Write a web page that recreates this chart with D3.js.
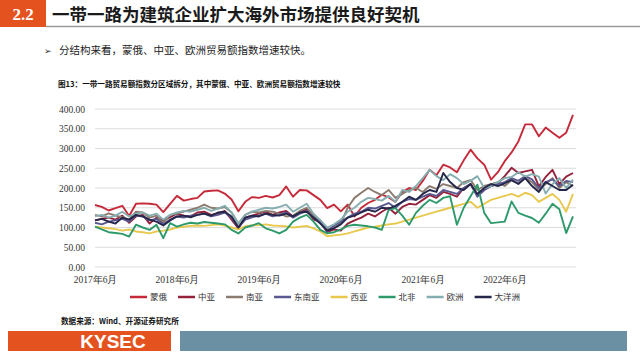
<!DOCTYPE html>
<html><head><meta charset="utf-8">
<script src="https://cdn.jsdelivr.net/npm/d3@7/dist/d3.min.js"></script>
<style>body{margin:0;background:#fff}svg{display:block}</style>
</head><body>
<svg id="c" width="640" height="360"></svg>
<script>
const sectionNo = "2.2";
const headTitle = "一带一路为建筑企业扩大海外市场提供良好契机";
const bullet = "分结构来看，蒙俄、中亚、欧洲贸易额指数增速较快。";
const figTitle = "图13：一带一路贸易额指数分区域拆分，其中蒙俄、中亚、欧洲贸易额指数增速较快";
const source = "数据来源：Wind、开源证券研究所";
const brand = "KYSEC";

const xTickLabels = ["2017年6月","2018年6月","2019年6月","2020年6月","2021年6月","2022年6月"];
const xTickIndex = [0,12,24,36,48,60];
const yTicks = [0,50,100,150,200,250,300,350,400];

const seriesNames = ["蒙俄","中亚","南亚","东南亚","西亚","北非","欧洲","大洋洲"];
const seriesColors = ["#c62a3a","#93223a","#8a7b6e","#5a5890","#e9c84e","#2e9a6b","#86aeb0","#24264a"];

const mengE = [157,152,143,149,155,129,160,161,160,158,139,160,
  180,168,172,175,191,193,194,186,171,141,165,177,
  175,180,176,182,204,178,195,194,182,170,149,158,
  141,158,128,150,162,170,183,176,165,190,200,195,
  218,246,232,259,252,240,270,297,275,259,221,240,
  268,290,318,361,361,331,353,340,327,340,385];
const zhongYa = [118,122,125,120,130,112,128,132,110,125,118,126,
  135,130,128,138,140,132,135,142,120,98,125,130,
  135,140,132,138,142,128,140,146,120,115,88,95,
  92,110,118,125,135,128,140,150,135,152,160,158,
  170,182,175,190,185,178,200,210,180,195,205,212,
  230,251,238,242,246,204,228,246,210,229,238];
const nanYa = [132,128,136,130,126,120,140,138,125,130,112,132,
  135,140,145,150,158,150,148,152,138,110,132,140,
  138,142,140,135,128,130,142,150,130,118,95,100,
  110,150,175,188,200,190,182,195,175,185,195,200,
  190,205,198,210,205,200,215,220,195,205,210,215,
  205,220,212,225,215,195,210,225,200,215,205];
const dongNanYa = [112,108,115,118,122,115,130,128,118,122,108,120,
  128,125,130,132,135,128,132,138,125,100,120,126,
  130,135,128,132,138,125,135,142,125,115,90,105,
  115,125,135,140,150,148,155,162,150,165,172,170,
  178,185,180,195,190,185,200,210,178,195,205,210,
  215,225,218,230,222,200,215,222,205,218,215];
const xiYa = [102,100,98,96,92,95,90,88,85,90,92,95,
  100,102,104,105,104,106,108,105,100,95,103,105,
  106,108,105,104,103,100,102,104,98,90,78,80,
  82,85,90,95,100,102,105,108,110,115,120,125,
  130,135,140,145,150,155,160,165,150,160,170,175,
  180,185,178,188,182,165,175,185,170,140,185];
const beiFei = [102,95,88,86,84,77,107,100,94,107,73,111,
  102,108,112,110,114,112,110,108,94,85,100,105,
  111,98,92,85,94,115,125,132,115,94,85,88,
  95,104,107,105,103,100,94,145,149,130,107,137,
  155,170,162,175,179,107,150,179,208,137,111,113,
  115,166,137,130,124,112,135,160,146,86,128];
const ouZhou = [128,132,125,130,140,128,135,138,130,135,120,132,
  138,142,140,145,150,142,148,155,138,110,132,140,
  145,150,148,152,158,140,150,160,135,118,100,108,
  120,140,150,165,175,172,168,180,165,195,190,205,
  225,246,230,220,235,225,210,218,230,200,205,215,
  225,228,240,229,235,229,186,210,225,200,221];
const daYangZhou = [118,122,115,110,125,120,132,128,120,115,105,118,
  128,130,126,132,135,130,138,140,128,100,125,130,
  128,135,132,130,135,128,138,140,125,110,92,98,
  108,125,130,138,145,140,150,148,155,165,178,170,
  185,195,190,238,215,200,195,210,185,200,210,205,
  212,220,210,225,205,190,215,205,195,195,208];

const seriesValues = [mengE,zhongYa,nanYa,dongNanYa,xiYa,beiFei,ouZhou,daYangZhou];

const svg = d3.select("#c");
const cjk = "'Noto Sans CJK SC','Noto Sans',sans-serif";
const serif = "'Liberation Serif','DejaVu Serif',serif";

// header
svg.append("rect").attr("x",0).attr("y",0).attr("width",46).attr("height",27).attr("fill","#e4531f");
svg.append("text").attr("x",23).attr("y",20).attr("text-anchor","middle")
  .attr("font-family",serif).attr("font-weight","bold").attr("font-size",17).attr("fill","#fff").text(sectionNo);
svg.append("text").attr("x",52).attr("y",21).attr("font-family",cjk).attr("font-weight","bold")
  .attr("font-size",17.5).attr("fill","#1a1a1a").text(headTitle);
svg.append("line").attr("x1",46).attr("x2",640).attr("y1",26.5).attr("y2",26.5).attr("stroke","#9a9a9a").attr("stroke-width",1.5);

svg.append("text").attr("x",44).attr("y",54).attr("font-family","'DejaVu Sans',sans-serif").attr("font-size",9).attr("fill","#333").text("➢");
svg.append("text").attr("x",59).attr("y",54).attr("font-family",cjk).attr("font-size",10.5).attr("fill","#222").text(bullet);

svg.append("text").attr("x",58).attr("y",87).attr("font-family",cjk).attr("font-weight","bold")
  .attr("font-size",7.6).attr("fill","#111").text(figTitle);

// scales
const x = d3.scaleLinear().domain([0,70]).range([95,573]);
const y = d3.scaleLinear().domain([0,400]).range([267,109]);

// grid
svg.append("g").selectAll("line").data(yTicks).join("line")
  .attr("x1",95).attr("x2",576).attr("y1",d=>y(d)).attr("y2",d=>y(d))
  .attr("stroke","#dcdcdc").attr("stroke-width",1);

// y axis labels
const yAxis = d3.axisLeft(y).tickValues(yTicks).tickFormat(d3.format(".2f")).tickSize(0).tickPadding(0);
const gy = svg.append("g").attr("transform","translate(85,0)").call(yAxis);
gy.select(".domain").remove();
gy.selectAll("text").attr("font-family",serif).attr("font-size",9.5).attr("fill","#333");

// x axis labels
const xAxis = d3.axisBottom(x).tickValues(xTickIndex).tickFormat((d,i)=>xTickLabels[i]).tickSize(0).tickPadding(0);
const gx = svg.append("g").attr("transform","translate(0,276)").call(xAxis);
gx.select(".domain").remove();
gx.selectAll("text").attr("font-family",serif).attr("font-size",9.5).attr("fill","#333");

// lines
const line = d3.line().x((d,i)=>x(i)).y(d=>y(d));
svg.append("g").selectAll("path").data(seriesValues).join("path")
  .attr("d",d=>line(d)).attr("fill","none")
  .attr("stroke",(d,i)=>seriesColors[i]).attr("stroke-width",1.9).attr("stroke-linejoin","round");

// legend
const lg = svg.append("g");
let lx = 130;
seriesNames.forEach((n,i)=>{
  lg.append("line").attr("x1",lx).attr("x2",lx+17).attr("y1",297).attr("y2",297)
    .attr("stroke",seriesColors[i]).attr("stroke-width",2.5);
  const t = lg.append("text").attr("x",lx+20).attr("y",300).attr("font-family",cjk)
    .attr("font-size",8.5).attr("fill","#333").text(n);
  lx += 20 + t.node().getComputedTextLength() + 11;
});

// source
svg.append("text").attr("x",61).attr("y",324).attr("font-family",cjk).attr("font-weight","bold")
  .attr("font-size",7.6).attr("fill","#111").text(source);

// footer bar
svg.append("rect").attr("x",8).attr("y",331).attr("width",163).attr("height",20).attr("fill","#e4531f");
svg.append("text").attr("x",113).attr("y",348).attr("text-anchor","middle").attr("font-family","'Liberation Sans',Arial,sans-serif")
  .attr("font-weight","bold").attr("font-size",19).attr("fill","#fff").text(brand);
svg.append("rect").attr("x",180).attr("y",331).attr("width",447).attr("height",20).attr("fill","#6b8fa3");
</script>
</body></html>
